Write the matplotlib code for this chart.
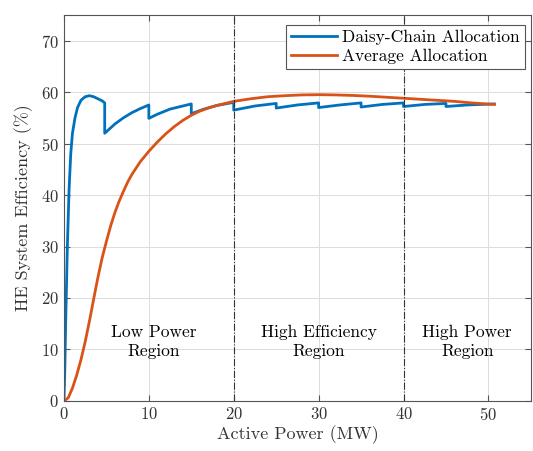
import matplotlib
matplotlib.use("Agg")
import matplotlib.pyplot as plt
import numpy as np

plt.rcParams['font.family'] = ['cmr10', 'DejaVu Serif']
plt.rcParams['mathtext.fontset'] = 'cm'
plt.rcParams['axes.formatter.use_mathtext'] = True

# daisy-chain allocation (sawtooth)
daisy_p = [0, 0.1, 0.2, 0.4, 0.6, 0.8, 1.0, 1.3, 1.6, 2.0, 2.5, 3.0, 3.5, 4.0, 4.5, 4.8,
           4.8, 6.0, 7.0, 8.0, 9.0, 10.0,
           10.0, 11.0, 12.5, 14.0, 15.0,
           15.0, 16.5, 18.0, 20.0,
           20.0, 22.5, 25.0,
           25.0, 27.5, 30.0,
           30.0, 32.5, 35.0,
           35.0, 37.5, 40.0,
           40.0, 42.5, 45.0,
           45.0, 47.5, 50.7]
daisy_eff = [0, 6, 15, 30, 41, 48, 52, 55, 57, 58.4, 59.1, 59.3, 59.1, 58.7, 58.3, 57.9,
             52.0, 53.8, 55.0, 56.0, 56.8, 57.5,
             54.9, 55.7, 56.7, 57.3, 57.7,
             55.8, 56.7, 57.4, 58.0,
             56.5, 57.3, 57.8,
             56.9, 57.5, 57.9,
             57.0, 57.5, 57.9,
             57.1, 57.6, 57.9,
             57.2, 57.6, 57.8,
             57.2, 57.5, 57.7]

# average allocation
avg_p = [0, 0.5, 1.0, 1.5, 2.0, 2.5, 3.0, 3.5, 4.0, 4.5, 5.0, 5.5, 6.0, 6.5, 7.0, 7.5, 8.0,
         9.0, 10.0, 11.0, 12.0, 13.0, 14.0, 15.0, 16.0, 17.0, 18.0, 19.0, 20.0, 22.0, 24.0,
         26.0, 28.0, 30.0, 32.0, 34.0, 36.0, 38.0, 40.0, 42.0, 44.0, 46.0, 48.0, 50.7]
avg_eff = [0, 0.6, 2.5, 5.0, 8.0, 11.5, 15.5, 19.8, 24.0, 27.8, 31.0, 34.0, 36.6, 38.8, 40.7,
           42.5, 44.0, 46.5, 48.5, 50.3, 51.9, 53.3, 54.5, 55.5, 56.3, 56.9, 57.4, 57.8, 58.2,
           58.7, 59.1, 59.3, 59.45, 59.5, 59.45, 59.35, 59.2, 59.0, 58.8, 58.6, 58.4, 58.2,
           57.9, 57.6]

region_x = [10.6, 30, 47.5]
region_labels = ['Low Power\nRegion', 'High Efficiency\nRegion', 'High Power\nRegion']
boundaries = [20, 40]

fig = plt.figure(figsize=(5.33, 4.51), dpi=100)
ax = fig.add_axes([0.120, 0.111, 0.876, 0.856])

ax.plot(daisy_p, daisy_eff, color='#0072BD', lw=2.0, label='Daisy-Chain Allocation')
ax.plot(avg_p, avg_eff, color='#D95319', lw=2.0, label='Average Allocation')

for b in boundaries:
    ax.axvline(b, color='#333333', lw=0.8, ls='-.')

for xr, txt in zip(region_x, region_labels):
    ax.text(xr, 11.5, txt, ha='center', va='center', fontsize=12.5, linespacing=1.3)

ax.set_xlim(0, 55)
ax.set_ylim(0, 75)
ax.set_xticks(np.arange(0, 51, 10))
ax.set_yticks(np.arange(0, 71, 10))
ax.grid(True, color='#dcdcdc', lw=0.7)
ax.set_axisbelow(True)
ax.tick_params(direction='in', top=True, right=True, labelsize=12, length=4,
               color='#555555', labelcolor='#333333')
for s in ax.spines.values():
    s.set_color('#555555')
    s.set_linewidth(0.8)

ax.set_xlabel('Active Power (MW)', fontsize=13, color='#333333', labelpad=2)
ax.set_ylabel('HE System Efficiency (%)', fontsize=13, color='#333333', labelpad=6)

leg = ax.legend(loc='upper right', bbox_to_anchor=(0.987, 0.974), fontsize=12.5,
                handlelength=2.65, borderaxespad=0, fancybox=False, edgecolor='#555555',
                framealpha=1, borderpad=0.3, labelspacing=0.18, handletextpad=0.3)
leg.get_frame().set_linewidth(0.8)

fig.savefig('out.png', dpi=100)
